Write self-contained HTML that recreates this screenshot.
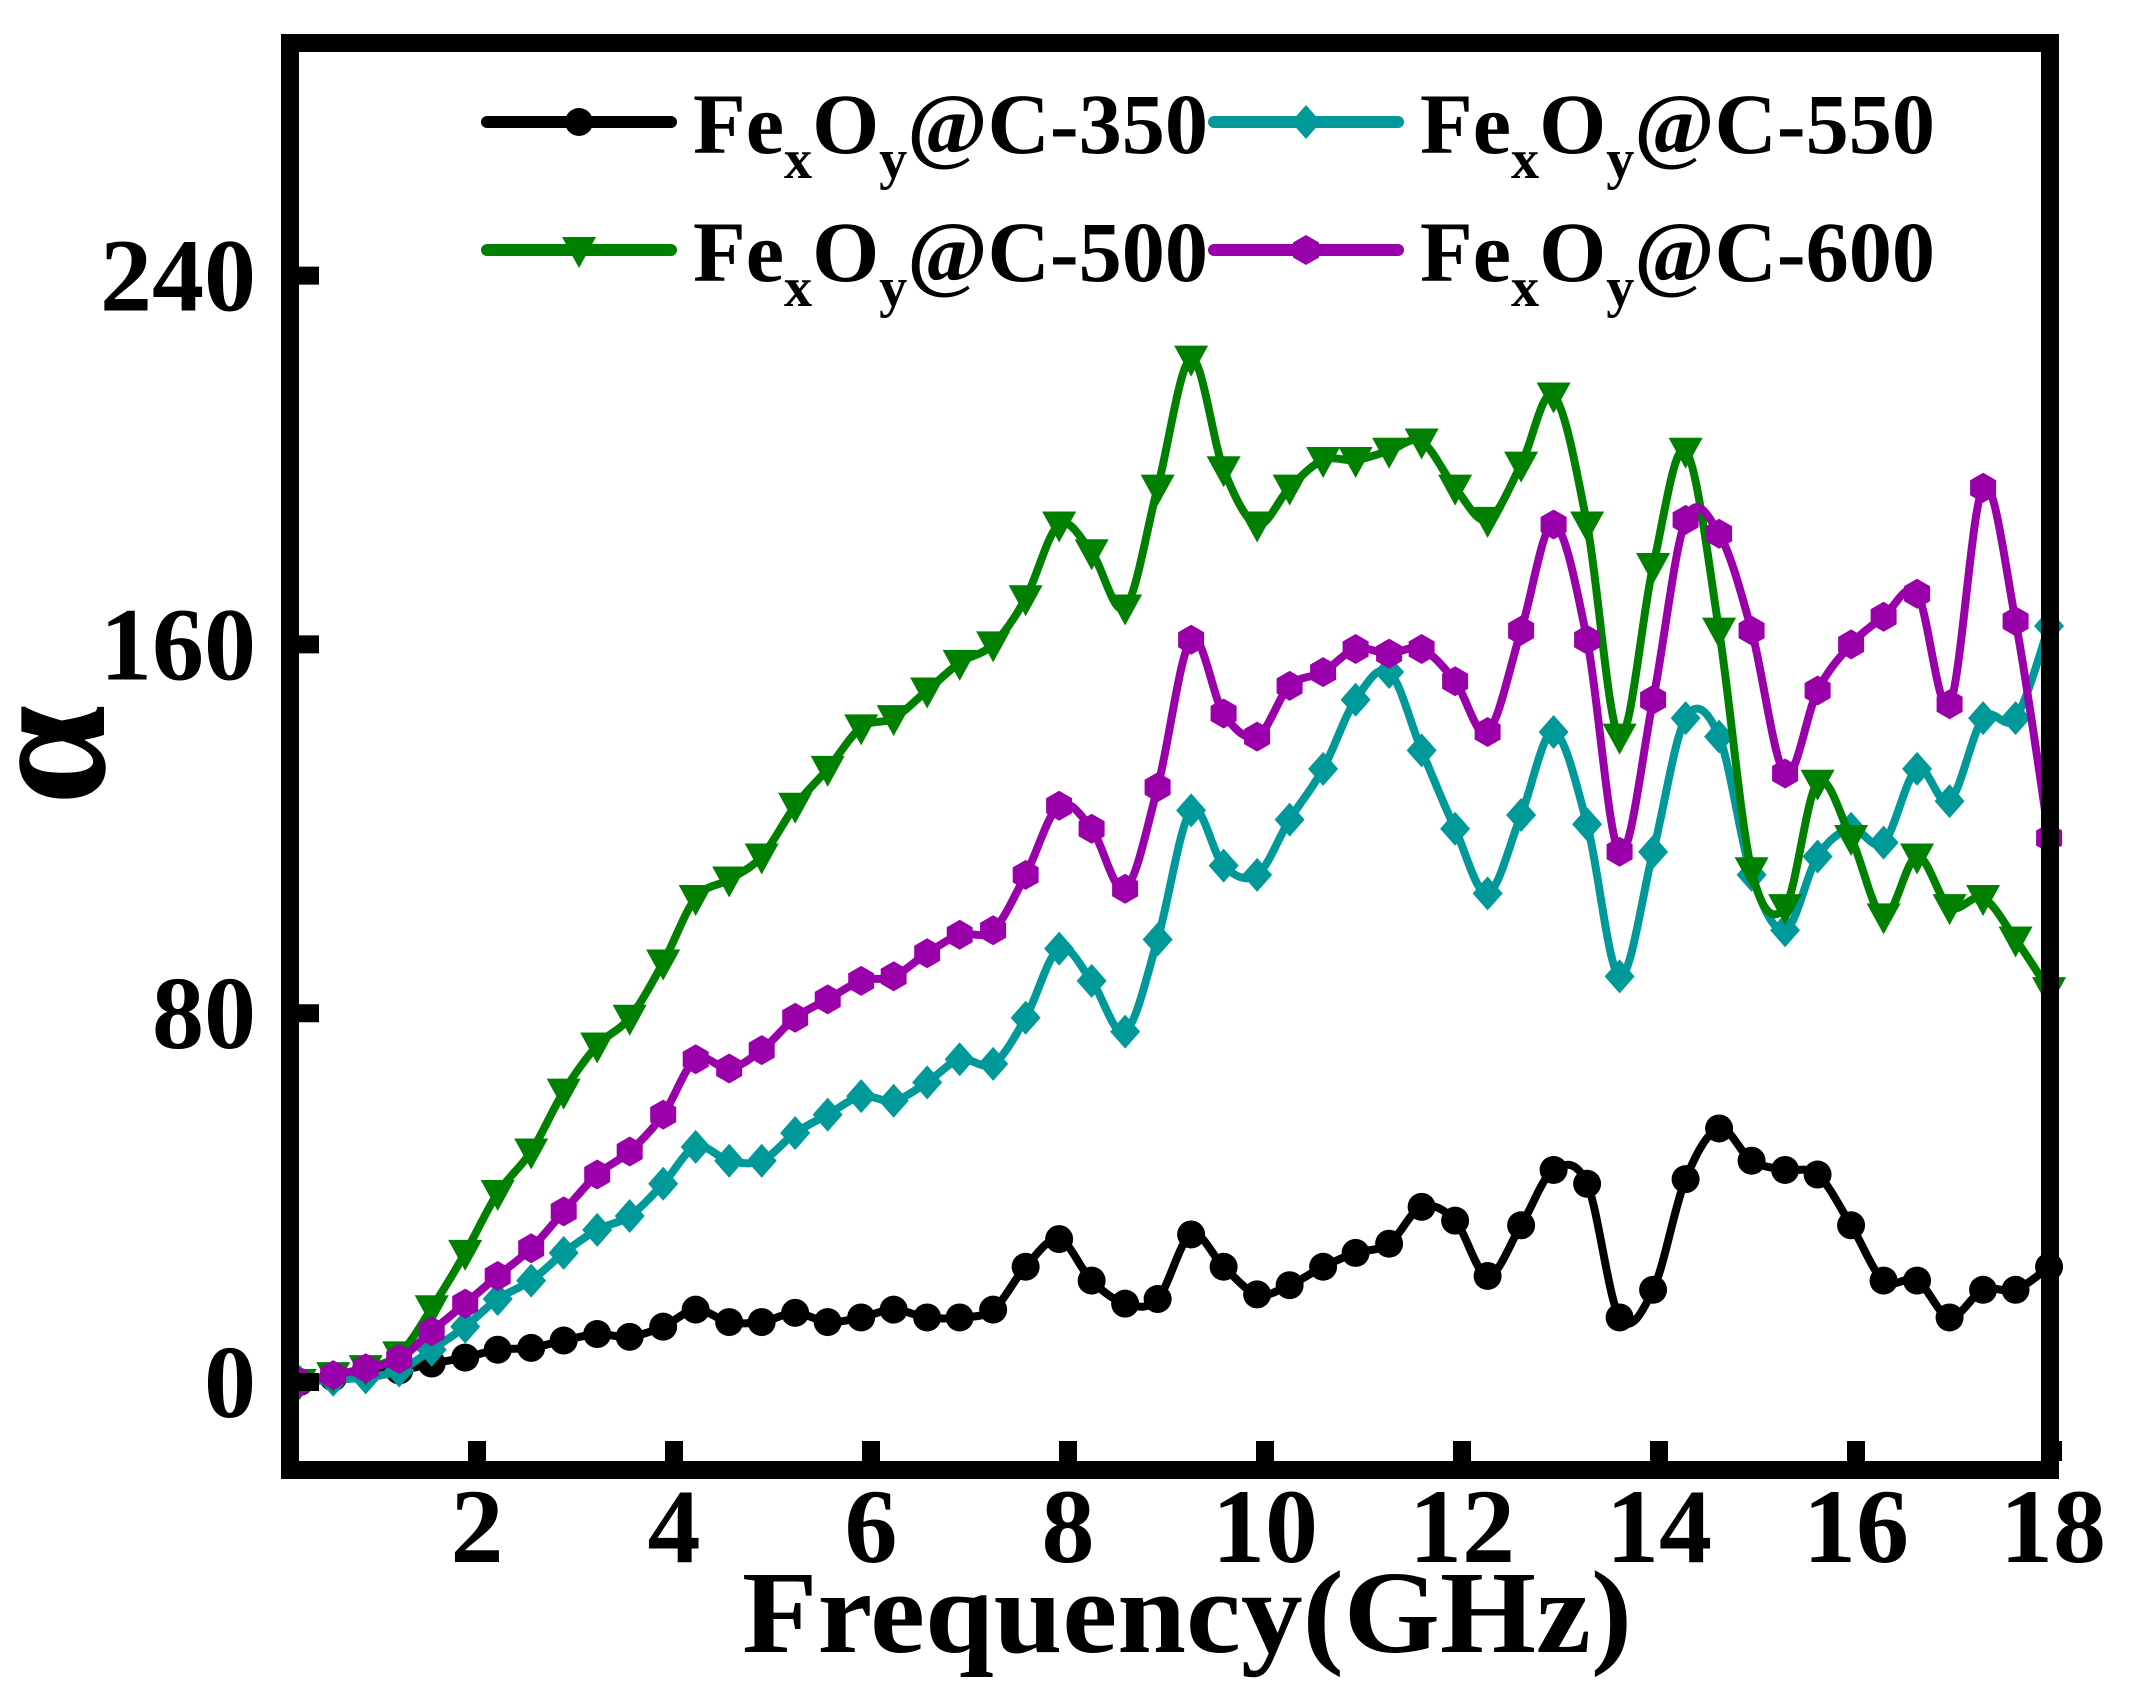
<!DOCTYPE html>
<html><head><meta charset="utf-8"><style>
html,body{margin:0;padding:0;background:#fff;}
svg{display:block;}
text{font-family:"Liberation Serif",serif;font-weight:bold;fill:#000;}
</style></head><body>
<svg id="chart" width="2134" height="1698" viewBox="0 0 2134 1698">
<g id="series"></g>
<rect x="290" y="43" width="1760" height="1427" fill="none" stroke="#000" stroke-width="18"/>
<g id="axes"></g>
<text x="104" y="755" font-size="180" text-anchor="middle" transform="rotate(-90 104 755)">α</text>
<text x="1187" y="1652" font-size="118" text-anchor="middle" textLength="890" lengthAdjust="spacingAndGlyphs">Frequency(GHz)</text>
<g id="legend"></g>
</svg>
<script>
const freqs=[0.2,0.54,0.87,1.21,1.54,1.88,2.21,2.55,2.88,3.22,3.55,3.89,4.22,4.56,4.89,5.23,5.56,5.9,6.23,6.57,6.9,7.24,7.57,7.91,8.24,8.58,8.91,9.25,9.58,9.92,10.25,10.59,10.92,11.26,11.59,11.93,12.26,12.6,12.93,13.27,13.6,13.94,14.27,14.61,14.94,15.28,15.61,15.95,16.28,16.62,16.95,17.29,17.62,17.96];
const s350=[0,1,2.5,2.5,4,5.3,7,7.4,9,10.4,9.8,12,15.7,13,13,15,13,14,15.7,14,14,15.7,25,31,22,17,18,32,25,19,21,25,28,30,38,35,23,34,46,43,14,20,44,55,48,46,45,34,22,22,14,20,20,25];
const s500=[0,1.5,3,6,16,28,41,50,63,73,79,91,105,109,114,125,133,142,144,150,156,160,170,186,180,168,194,222,198,186,194,200,200,202,204,194,187,199,214,186,140,177,202,163,111,103,130,118,101,114,103,105,96,85];
const s550=[0,0.5,1,2.5,7,12,18,22,28,33,36,43,51,48,48,54,58,62,61,65,70,69,79,94,87,76,96,124,112,110,122,133,148,154,137,120,106,123,141,121,88,115,144,140,110,98,114,120,117,133,126,144,144,164];
const s600=[0,1.5,3,5,11,17,23,29,37,45,50,58,70,68,72,79,83,87,88,93,97,98,110,125,120,107,129,161,145,140,151,154,159,158,159,152,141,163,186,161,115,148,187,184,163,132,150,160,166,171,147,194,165,118];
const xTicks=[2,4,6,8,10,12,14,16,18];
const yTicks=[0,80,160,240];
const NS="http://www.w3.org/2000/svg";
function X(f){return 477+(f-2)*98.5;}
function Y(v){return 1382-v*4.61;}
function mk(tag,attrs,parent){const e=document.createElementNS(NS,tag);for(const k in attrs)e.setAttribute(k,attrs[k]);parent.appendChild(e);return e;}
const axes=document.getElementById('axes');
xTicks.forEach(t=>{
  const l=mk('line',{x1:X(t),x2:X(t),y1:1461,y2:1441,stroke:'#000','stroke-width':18},axes);
  
  
  const tx=mk('text',{x:X(t),y:1562,'font-size':106,'text-anchor':'middle'},axes);
  tx.textContent=t;
  
  
});
yTicks.forEach(t=>{
  const l=mk('line',{x1:299,x2:319,y1:Y(t),y2:Y(t),stroke:'#000','stroke-width':18},axes);
  
  
  const tx=mk('text',{x:256,y:Y(t)+35,'font-size':104,'text-anchor':'end'},axes);
  tx.textContent=t;
  
  
});
function marker(type,cx,cy,color,parent){
  let e;
  if(type==='circle'){e=mk('circle',{cx:cx,cy:cy,r:14,fill:color},parent);}
  else if(type==='tri'){e=mk('polygon',{points:`${cx-17},${cy-13} ${cx+17},${cy-13} ${cx},${cy+18}`,fill:color},parent);}
  else if(type==='diamond'){e=mk('polygon',{points:`${cx},${cy-17} ${cx+15},${cy} ${cx},${cy+17} ${cx-15},${cy}`,fill:color},parent);}
  else {const p=[];for(let i=0;i<6;i++){const a=Math.PI/6+i*Math.PI/3;p.push((cx+15*Math.cos(a)).toFixed(1)+','+(cy+15*Math.sin(a)).toFixed(1));}
    e=mk('polygon',{points:p.join(' '),fill:color},parent);}
  return e;
}
function smooth(P){
  let d='M'+P[0][0].toFixed(1)+','+P[0][1].toFixed(1);
  for(let i=0;i<P.length-1;i++){
    const p0=P[Math.max(0,i-1)],p1=P[i],p2=P[i+1],p3=P[Math.min(P.length-1,i+2)];
    const t=0.5/3;
    const c1=[p1[0]+(p2[0]-p0[0])*t,p1[1]+(p2[1]-p0[1])*t];
    const c2=[p2[0]-(p3[0]-p1[0])*t,p2[1]-(p3[1]-p1[1])*t];
    d+=` C${c1[0].toFixed(1)},${c1[1].toFixed(1)} ${c2[0].toFixed(1)},${c2[1].toFixed(1)} ${p2[0].toFixed(1)},${p2[1].toFixed(1)}`;
  }
  return d;
}
const defs=[
  {vals:s350,color:'#000000',m:'circle',name:'series-350'},
  {vals:s550,color:'#00999a',m:'diamond',name:'series-550'},
  {vals:s500,color:'#008000',m:'tri',name:'series-500'},
  {vals:s600,color:'#9900aa',m:'hex',name:'series-600'}
];
const sg=document.getElementById('series');
defs.forEach(d=>{
  const g=mk('g',{},sg);
  
  
  const P=d.vals.map((v,i)=>[X(freqs[i]),Y(v)]);
  const pl=mk('path',{d:smooth(P),fill:'none',stroke:d.color,'stroke-width':8,'stroke-linejoin':'round'},g);
  
  
  d.vals.forEach((v,i)=>{
    const m=marker(d.m,X(freqs[i]),Y(v),d.color,g);
    
    
  });
});
const lg=document.getElementById('legend');
const legItems=[
  {label:'350',color:'#000000',m:'circle',x:487,y:122},
  {label:'550',color:'#00999a',m:'diamond',x:1214,y:122},
  {label:'500',color:'#008000',m:'tri',x:487,y:250},
  {label:'600',color:'#9900aa',m:'hex',x:1214,y:250}
];
legItems.forEach(it=>{
  const g=mk('g',{},lg);
  
  
  mk('line',{x1:it.x,x2:it.x+184,y1:it.y,y2:it.y,stroke:it.color,'stroke-width':12,'stroke-linecap':'round'},g);
  marker(it.m,it.x+92,it.y,it.color,g);
  const t=mk('text',{x:it.x+206,y:it.y+31,'font-size':86,textLength:515,lengthAdjust:'spacingAndGlyphs'},g);
  t.innerHTML='Fe<tspan font-size="56" dy="25">x</tspan><tspan dy="-25">O</tspan><tspan font-size="56" dy="25">y</tspan><tspan dy="-25">@C-'+it.label+'</tspan>';
});
</script>
</body></html>
